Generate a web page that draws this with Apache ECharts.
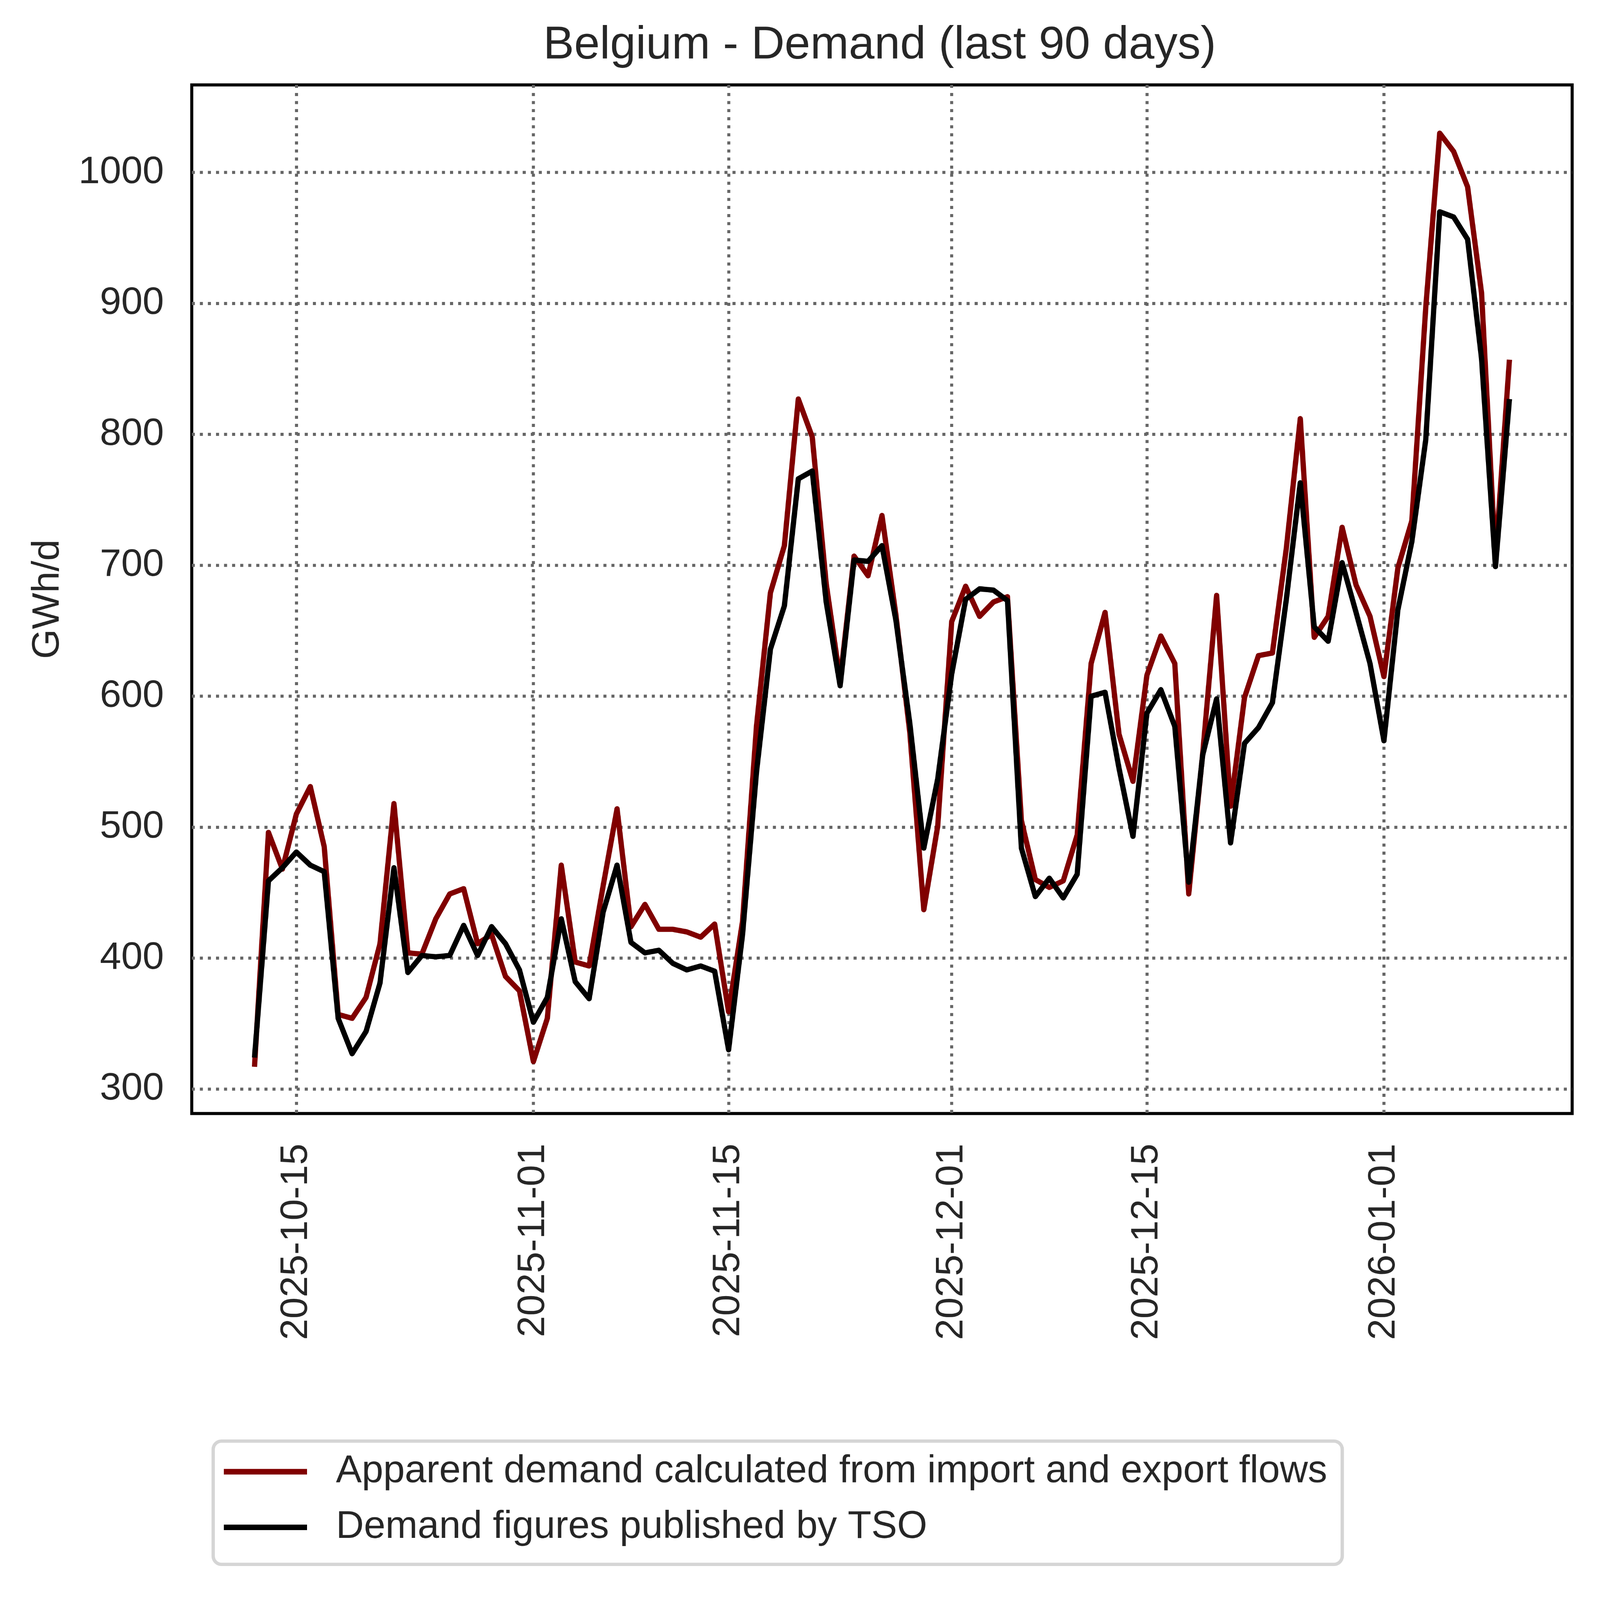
<!DOCTYPE html>
<html>
<head>
<meta charset="utf-8">
<title>Belgium - Demand (last 90 days)</title>
<script src="https://cdn.jsdelivr.net/npm/echarts@6.0.0/dist/echarts.min.js"></script>
<style>
html, body { margin: 0; padding: 0; background: #ffffff; overflow: hidden; }
#chart { width: 5749px; height: 5721px; transform-origin: 0 0; }
</style>
</head>
<body>
<div id="chart"></div>
<script>
// first day of the series (daily values, one per day)
var firstDay = "2025-10-12";
var tickDates = ["2025-10-15", "2025-11-01", "2025-11-15", "2025-12-01", "2025-12-15", "2026-01-01"];
var yTicks = [300, 400, 500, 600, 700, 800, 900, 1000];

// Apparent demand calculated from import and export flows (GWh/d)
var apparent = [
	317, 496, 468, 510, 531, 485, 357, 354, 370, 411, 518, 404, 403, 430, 449, 453, 411, 418, 386, 375,
	321, 354, 471, 397, 394, 455, 514, 424, 441, 422, 422, 420, 416, 426, 359, 428, 577, 679, 715, 827,
	798, 686, 612, 707, 692, 738, 662, 572, 437, 501,
	657, 684, 661, 672, 676, 505, 460, 454, 459, 494, 625, 664, 571, 535, 616, 646, 625, 449, 556, 677,
	516, 599, 631, 633, 713, 812, 645, 661, 729, 685, 661,
	615, 698, 734, 897, 1030, 1016, 989, 908, 705, 857
];
// Demand figures published by TSO (GWh/d)
var tso = [
	324, 459, 469, 481, 471, 466, 354, 327, 344, 381, 469, 389, 402, 401, 402, 425, 402, 424, 411, 391,
	351, 370, 430, 382, 369, 435, 471, 412, 404, 406, 396, 391, 394, 390, 330, 418, 542, 636, 669, 766,
	772, 672, 608, 704, 703, 715, 658, 579, 484, 537,
	617, 674, 682, 681, 673, 484, 447, 461, 446, 464, 600, 603, 545, 493, 587, 605, 577, 458, 555, 598,
	488, 564, 576, 595, 674, 763, 653, 642, 702, 664, 625,
	566, 666, 718, 796, 970, 966, 949, 858, 699, 827
];

var fontName = "Liberation Sans, Arial, Helvetica, sans-serif";
var textColor = "#262626";
var DAY = 86400000;

function parseDay(s) {
	var p = s.split("-");
	return Date.UTC(+p[0], +p[1] - 1, +p[2]);
}
function pad2(n) {
	return n < 10 ? "0" + n : "" + n;
}
function fmtDay(v) {
	var d = new Date(Math.round(v));
	return d.getUTCFullYear() + "-" + pad2(d.getUTCMonth() + 1) + "-" + pad2(d.getUTCDate());
}

// x values are UTC timestamps on a plain value axis
var t0 = parseDay(firstDay);
var days = apparent.map(function (v, i) { return t0 + i * DAY; });
var apparentData = days.map(function (t, i) { return [t, apparent[i]]; });
var tsoData = days.map(function (t, i) { return [t, tso[i]]; });
var tickValues = tickDates.map(parseDay);

// the layout below is in picture pixels; fit it to the window
var box = document.getElementById("chart");
var fit = Math.min(window.innerWidth / 5749, window.innerHeight / 5721);
box.style.transform = "scale(" + fit + ")";

var myChart = echarts.init(box, null, {renderer: "canvas"});
var option = {
	animation: false,
	backgroundColor: "#ffffff",
	textStyle: {fontFamily: fontName},
	title: {
		text: "Belgium - Demand (last 90 days)",
		left: 1952,
		top: 81,
		padding: 0,
		textStyle: {fontFamily: fontName, fontSize: 166, fontWeight: "normal", color: textColor, lineHeight: 166}
	},
	grid: {
		left: 689,
		top: 305,
		width: 4960,
		height: 3696,
		show: true,
		borderColor: "#000000",
		borderWidth: 11,
		backgroundColor: "transparent"
	},
	legend: {
		orient: "vertical",
		left: 766,
		top: 5178,
		padding: [30, 54, 53, 38],
		itemWidth: 299,
		itemHeight: 20,
		itemGap: 40,
		icon: "rect",
		selectedMode: false,
		backgroundColor: "#ffffff",
		borderColor: "#d5d5d5",
		borderWidth: 12,
		borderRadius: 30,
		textStyle: {fontFamily: fontName, fontSize: 139, color: textColor, lineHeight: 160, padding: [0, 0, 0, 99]}
	},
	xAxis: {
		type: "value",
		min: t0 - 4.5 * DAY,
		max: days[days.length - 1] + 4.5 * DAY,
		axisLine: {show: false},
		axisTick: {show: false, customValues: tickValues},
		axisLabel: {
			customValues: tickValues,
			rotate: 90,
			margin: 108,
			fontFamily: fontName,
			fontSize: 138,
			color: textColor,
			formatter: function (v) { return fmtDay(v); }
		},
		splitLine: {show: true, lineStyle: {color: "#666666", width: 11, type: [11, 18]}}
	},
	yAxis: {
		type: "value",
		min: 281.3,
		max: 1066.9,
		name: "GWh/d",
		nameLocation: "middle",
		nameRotate: 90,
		nameGap: 447,
		nameTextStyle: {fontFamily: fontName, fontSize: 138, color: textColor, lineHeight: 138},
		axisLine: {show: false},
		axisTick: {show: false, customValues: yTicks},
		axisLabel: {
			customValues: yTicks,
			margin: 100,
			fontFamily: fontName,
			fontSize: 138,
			color: textColor,
			formatter: function (v) { return String(v); }
		},
		splitLine: {show: true, lineStyle: {color: "#666666", width: 11, type: [11, 18]}}
	},
	series: [{
		name: "Apparent demand calculated from import and export flows",
		type: "line",
		data: apparentData,
		symbol: "none",
		showSymbol: false,
		lineStyle: {color: "#800000", width: 19, join: "round"},
		itemStyle: {color: "#800000"}
	}, {
		name: "Demand figures published by TSO",
		type: "line",
		data: tsoData,
		symbol: "none",
		showSymbol: false,
		lineStyle: {color: "#000000", width: 19, join: "round"},
		itemStyle: {color: "#000000"}
	}]
};
myChart.setOption(option);
</script>
</body>
</html>
